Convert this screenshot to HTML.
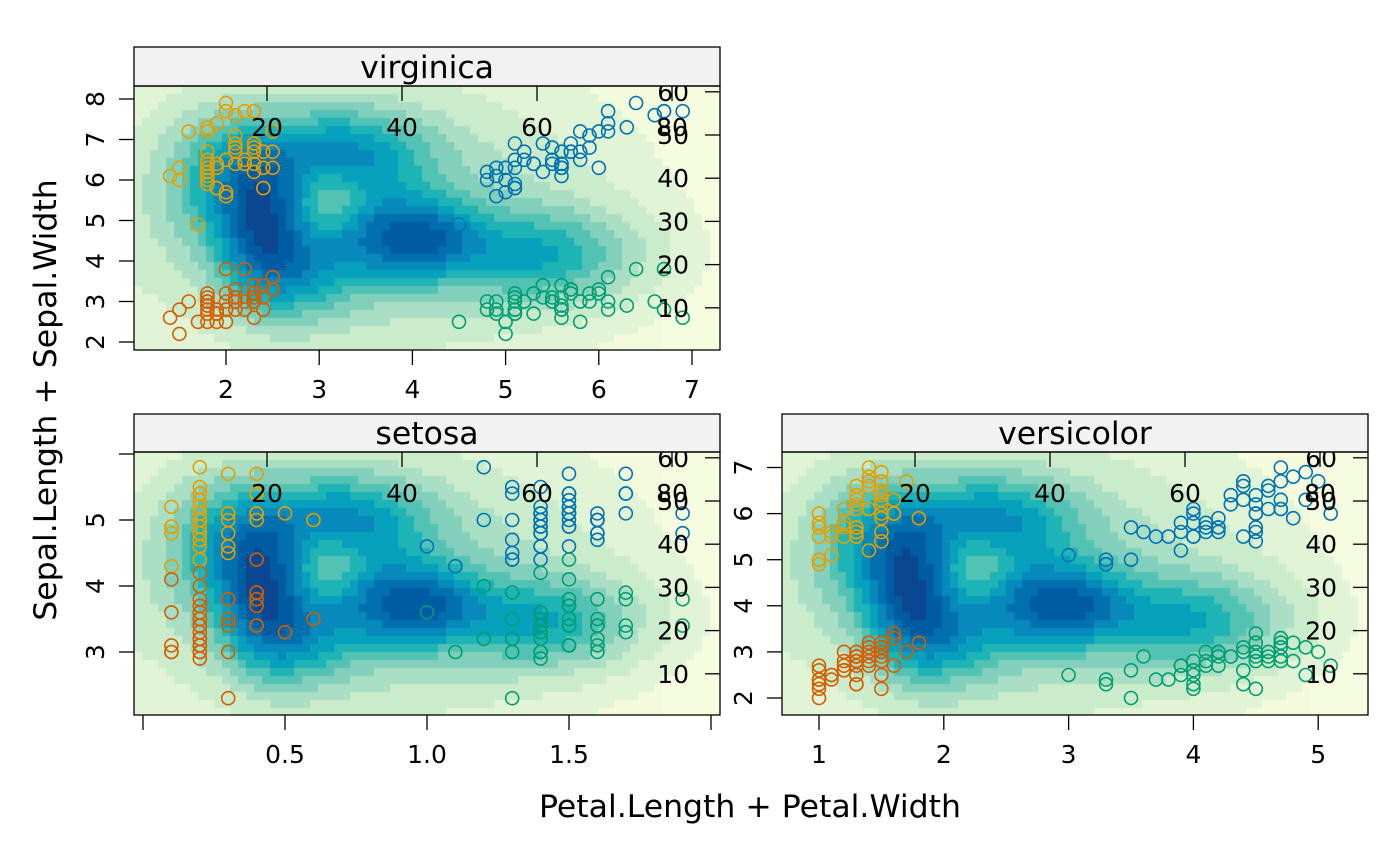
<!DOCTYPE html>
<html><head><meta charset="utf-8">
<style>
html,body{margin:0;padding:0;background:#fff;}
#wrap{position:relative;width:1400px;height:866px;overflow:hidden;}
canvas{position:absolute;}
svg{position:absolute;left:0;top:0;}
text{font-family:"DejaVu Sans","Liberation Sans",sans-serif;fill:#000;}
</style></head><body>
<div id="wrap">
<canvas id="c1" width="586" height="264" style="left:134px;top:86px"></canvas>
<canvas id="c2" width="586" height="263" style="left:134px;top:452px"></canvas>
<canvas id="c3" width="586" height="263" style="left:782px;top:452px"></canvas>
<svg id="s" width="1400" height="866" xmlns="http://www.w3.org/2000/svg">
<g id="axes" stroke="#000" stroke-width="1.3" fill="none"></g>
<g id="pts" fill="none" stroke-width="1.6"></g>
<g id="txt"></g>
<rect x="134" y="47" width="586" height="39" fill="#f2f2f2" stroke="#000" stroke-width="1.3"/>
<rect x="134" y="414" width="586" height="38" fill="#f2f2f2" stroke="#000" stroke-width="1.3"/>
<rect x="782" y="414" width="586" height="38" fill="#f2f2f2" stroke="#000" stroke-width="1.3"/>
<text x="427" y="78" font-size="31.5" text-anchor="middle">virginica</text>
<text x="427" y="444" font-size="31.5" text-anchor="middle">setosa</text>
<text x="1075" y="444" font-size="31.5" text-anchor="middle">versicolor</text>
<rect x="134" y="86" width="586" height="264" fill="none" stroke="#000" stroke-width="1.3"/>
<rect x="134" y="452" width="586" height="263" fill="none" stroke="#000" stroke-width="1.3"/>
<rect x="782" y="452" width="586" height="263" fill="none" stroke="#000" stroke-width="1.3"/>
<text x="750" y="817" font-size="31.5" text-anchor="middle">Petal.Length + Petal.Width</text>
<text transform="translate(56,400) rotate(-90)" font-size="31.5" text-anchor="middle">Sepal.Length + Sepal.Width</text>
</svg>
</div>
<script>
var comps=[[128,132,30,48,0.5],[205,68,55,30,0.4],[245,150,45,30,0.38],[300,155,35,24,0.3],
[410,170,65,32,0.36],[220,130,150,85,0.3],[160,185,40,35,0.28],[85,90,40,45,0.25],[196,118,30,30,-0.26]];
var levels=[[0.03,'#f3fbdc'],[0.08,'#e2f4d6'],[0.15,'#cbecca'],[0.22,'#aadfc5'],[0.30,'#82d0bb'],
[0.38,'#52c2b4'],[0.46,'#1eb3b4'],[0.55,'#07a0bd'],[0.65,'#0789bb'],[0.75,'#0070ae'],
[0.85,'#005ca2'],[0.93,'#0b4690'],[9,'#08306b']];
function dens(x,y){var d=0;for(var i=0;i<comps.length;i++){var c=comps[i];var dx=(x-c[0])/c[2],dy=(y-c[1])/c[3];d+=c[4]*Math.exp(-(dx*dx+dy*dy)/2);}return d;}
['c1','c2','c3'].forEach(function(id){var cv=document.getElementById(id),ctx=cv.getContext('2d');
 for(var y=0;y<cv.height;y+=8)for(var x=0;x<cv.width;x+=8){var d=dens(x+4,y+4);var col=levels[0][1];
  for(var k=0;k<levels.length;k++){if(d<levels[k][0]){col=levels[k][1];break;}}
  if(d<0.03 && (x>520)) col='#f6fcdf';
  ctx.fillStyle=col;ctx.fillRect(x,y,8,8);}
});
var NS='http://www.w3.org/2000/svg';
function el(g,t,a,txt){var e=document.createElementNS(NS,t);for(var k in a)e.setAttribute(k,a[k]);if(txt!==undefined)e.textContent=txt;document.getElementById(g).appendChild(e);return e;}
function line(x1,y1,x2,y2){el('axes','line',{x1:x1,y1:y1,x2:x2,y2:y2});}
function txt(x,y,s,anchor,rot){var a={x:x,y:y,'font-size':25,'text-anchor':anchor||'middle'};
 if(rot){a.transform='rotate(-90 '+x+' '+y+')';}el('txt','text',a,s);}
var P={
 virginica:{L:134,T:86,H:264,X:function(v){return 226+(v-2)*93.2},Y:function(v){return 342-(v-2)*40.5},
  xt:[[2,'2'],[3,'3'],[4,'4'],[5,'5'],[6,'6'],[7,'7']],yt:[[2,'2'],[3,'3'],[4,'4'],[5,'5'],[6,'6'],[7,'7'],[8,'8']]},
 setosa:{L:134,T:452,H:263,X:function(v){return 143+v*284},Y:function(v){return 652-(v-3)*66},
  xt:[[0,''],[0.5,'0.5'],[1,'1.0'],[1.5,'1.5'],[2,'']],yt:[[3,'3'],[4,'4'],[5,'5'],[6,'']]},
 versicolor:{L:782,T:452,H:263,X:function(v){return 819+(v-1)*124.8},Y:function(v){return 698-(v-2)*46.1},
  xt:[[1,'1'],[2,'2'],[3,'3'],[4,'4'],[5,'5']],yt:[[2,'2'],[3,'3'],[4,'4'],[5,'5'],[6,'6'],[7,'7']]}
};
for(var n in P){var p=P[n];var B=p.T+p.H;
 p.xt.forEach(function(t){var x=p.X(t[0]);line(x,B,x,B+15);if(t[1])txt(x,B+48,t[1]);});
 p.yt.forEach(function(t){var y=p.Y(t[0]);line(p.L-15,y,p.L,y);if(t[1])txt(p.L-30,y,t[1],'middle',true);});
 [20,40,60,80].forEach(function(v){var x=p.L-2+v*6.75;line(x,p.T,x,p.T+15);txt(x,p.T+50,String(v));});
 [10,20,30,40,50,60].forEach(function(v){var y=p.T+265-v*4.32;line(p.L+571,y,p.L+586,y);txt(p.L+555,y+9,String(v),'end');});
}
var data={
setosa:[[5.1,3.5,1.4,0.2],[4.9,3.0,1.4,0.2],[4.7,3.2,1.3,0.2],[4.6,3.1,1.5,0.2],[5.0,3.6,1.4,0.2],[5.4,3.9,1.7,0.4],[4.6,3.4,1.4,0.3],[5.0,3.4,1.5,0.2],[4.4,2.9,1.4,0.2],[4.9,3.1,1.5,0.1],[5.4,3.7,1.5,0.2],[4.8,3.4,1.6,0.2],[4.8,3.0,1.4,0.1],[4.3,3.0,1.1,0.1],[5.8,4.0,1.2,0.2],[5.7,4.4,1.5,0.4],[5.4,3.9,1.3,0.4],[5.1,3.5,1.4,0.3],[5.7,3.8,1.7,0.3],[5.1,3.8,1.5,0.3],[5.4,3.4,1.7,0.2],[5.1,3.7,1.5,0.4],[4.6,3.6,1.0,0.2],[5.1,3.3,1.7,0.5],[4.8,3.4,1.9,0.2],[5.0,3.0,1.6,0.2],[5.0,3.4,1.6,0.4],[5.2,3.5,1.5,0.2],[5.2,3.4,1.4,0.2],[4.7,3.2,1.6,0.2],[4.8,3.1,1.6,0.2],[5.4,3.4,1.5,0.4],[5.2,4.1,1.5,0.1],[5.5,4.2,1.4,0.2],[4.9,3.1,1.5,0.2],[5.0,3.2,1.2,0.2],[5.5,3.5,1.3,0.2],[4.9,3.6,1.4,0.1],[4.4,3.0,1.3,0.2],[5.1,3.4,1.5,0.2],[5.0,3.5,1.3,0.3],[4.5,2.3,1.3,0.3],[4.4,3.2,1.3,0.2],[5.0,3.5,1.6,0.6],[5.1,3.8,1.9,0.4],[4.8,3.0,1.4,0.3],[5.1,3.8,1.6,0.2],[4.6,3.2,1.4,0.2],[5.3,3.7,1.5,0.2],[5.0,3.3,1.4,0.2]],
versicolor:[[7.0,3.2,4.7,1.4],[6.4,3.2,4.5,1.5],[6.9,3.1,4.9,1.5],[5.5,2.3,4.0,1.3],[6.5,2.8,4.6,1.5],[5.7,2.8,4.5,1.3],[6.3,3.3,4.7,1.6],[4.9,2.4,3.3,1.0],[6.6,2.9,4.6,1.3],[5.2,2.7,3.9,1.4],[5.0,2.0,3.5,1.0],[5.9,3.0,4.2,1.5],[6.0,2.2,4.0,1.0],[6.1,2.9,4.7,1.4],[5.6,2.9,3.6,1.3],[6.7,3.1,4.4,1.4],[5.6,3.0,4.5,1.5],[5.8,2.7,4.1,1.0],[6.2,2.2,4.5,1.5],[5.6,2.5,3.9,1.1],[5.9,3.2,4.8,1.8],[6.1,2.8,4.0,1.3],[6.3,2.5,4.9,1.5],[6.1,2.8,4.7,1.2],[6.4,2.9,4.3,1.3],[6.6,3.0,4.4,1.4],[6.8,2.8,4.8,1.4],[6.7,3.0,5.0,1.7],[6.0,2.9,4.5,1.5],[5.7,2.6,3.5,1.0],[5.5,2.4,3.8,1.1],[5.5,2.4,3.7,1.0],[5.8,2.7,3.9,1.2],[6.0,2.7,5.1,1.6],[5.4,3.0,4.5,1.5],[6.0,3.4,4.5,1.6],[6.7,3.1,4.7,1.5],[6.3,2.3,4.4,1.3],[5.6,3.0,4.1,1.3],[5.5,2.5,4.0,1.3],[5.5,2.6,4.4,1.2],[6.1,3.0,4.6,1.4],[5.8,2.6,4.0,1.2],[5.0,2.3,3.3,1.0],[5.6,2.7,4.2,1.3],[5.7,3.0,4.2,1.2],[5.7,2.9,4.2,1.3],[6.2,2.9,4.3,1.3],[5.1,2.5,3.0,1.1],[5.7,2.8,4.1,1.3]],
virginica:[[6.3,3.3,6.0,2.5],[5.8,2.7,5.1,1.9],[7.1,3.0,5.9,2.1],[6.3,2.9,5.6,1.8],[6.5,3.0,5.8,2.2],[7.6,3.0,6.6,2.1],[4.9,2.5,4.5,1.7],[7.3,2.9,6.3,1.8],[6.7,2.5,5.8,1.8],[7.2,3.6,6.1,2.5],[6.5,3.2,5.1,2.0],[6.4,2.7,5.3,1.9],[6.8,3.0,5.5,2.1],[5.7,2.5,5.0,2.0],[5.8,2.8,5.1,2.4],[6.4,3.2,5.3,2.3],[6.5,3.0,5.5,1.8],[7.7,3.8,6.7,2.2],[7.7,2.6,6.9,2.3],[6.0,2.2,5.0,1.5],[6.9,3.2,5.7,2.3],[5.6,2.8,4.9,2.0],[7.7,2.8,6.7,2.0],[6.3,2.7,4.9,1.8],[6.7,3.3,5.7,2.1],[7.2,3.2,6.0,1.8],[6.2,2.8,4.8,1.8],[6.1,3.0,4.9,1.8],[6.4,2.8,5.6,2.1],[7.2,3.0,5.8,1.6],[7.4,2.8,6.1,1.9],[7.9,3.8,6.4,2.0],[6.4,2.8,5.6,2.2],[6.3,2.8,5.1,1.5],[6.1,2.6,5.6,1.4],[7.7,3.0,6.1,2.3],[6.3,3.4,5.6,2.4],[6.4,3.1,5.5,1.8],[6.0,3.0,4.8,1.8],[6.9,3.1,5.4,2.1],[6.7,3.1,5.6,2.4],[6.9,3.1,5.1,2.3],[5.8,2.7,5.1,1.9],[6.8,3.2,5.9,2.3],[6.7,3.3,5.7,2.5],[6.7,3.0,5.2,2.3],[6.3,2.5,5.0,1.9],[6.5,3.0,5.2,2.0],[6.2,3.4,5.4,2.3],[5.9,3.0,5.1,1.8]]};
var series=[[3,0,'#E69F00'],[2,0,'#0072B2'],[3,1,'#D55E00'],[2,1,'#009E73']];
for(var n in data){var p=P[n];
 series.forEach(function(s){data[n].forEach(function(r){
  el('pts','circle',{cx:p.X(r[s[0]]).toFixed(1),cy:p.Y(r[s[1]]).toFixed(1),r:6.5,stroke:s[2]});});});}
</script>
</body></html>
